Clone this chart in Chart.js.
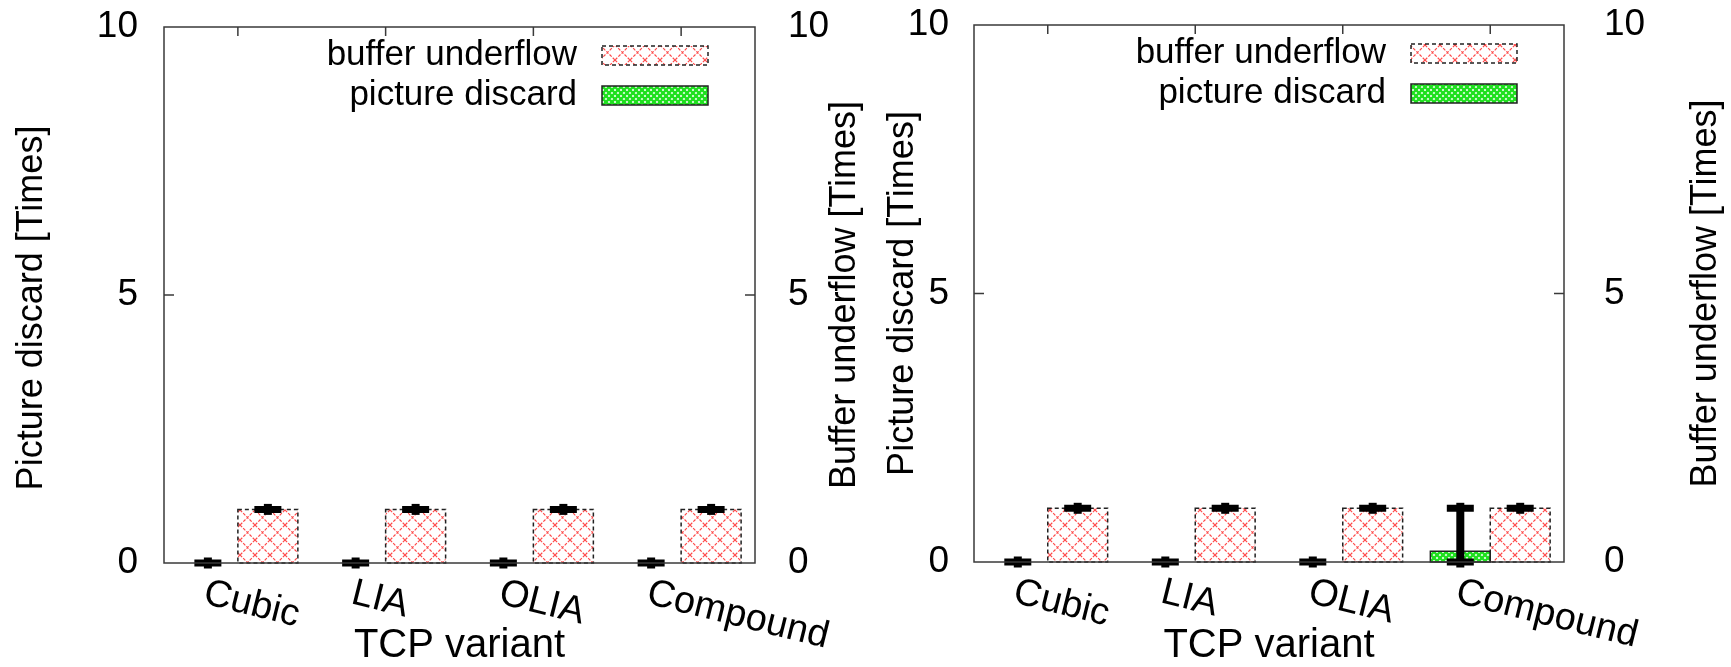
<!DOCTYPE html>
<html>
<head>
<meta charset="utf-8">
<script src="https://cdn.jsdelivr.net/npm/chart.js@4.4.1/dist/chart.umd.min.js"></script>
<style>
  body { margin: 0; background: #fff; }
  canvas { position: absolute; top: 0; }
  #left { left: 0; }
  #right { left: 870px; }
</style>
</head>
<body>
<canvas id="left" width="870" height="667"></canvas>
<canvas id="right" width="861" height="667"></canvas>
<script>
const variants = ['Cubic', 'LIA', 'OLIA', 'Compound'];

// left panel
const discardA = [0, 0, 0, 0];
const discardLowA = [0, 0, 0, 0];
const discardHighA = [0, 0, 0, 0];
const underflowA = [1, 1, 1, 1];
const underflowLowA = [1, 1, 1, 1];
const underflowHighA = [1, 1, 1, 1];

// right panel
const discardB = [0, 0, 0, 0.2];
const discardLowB = [0, 0, 0, 0];
const discardHighB = [0, 0, 0, 1];
const underflowB = [1, 1, 1, 1];
const underflowLowB = [1, 1, 1, 1];
const underflowHighB = [1, 1, 1, 1];

const FONT = 'Liberation Sans, Arial, sans-serif';
Chart.defaults.font.family = FONT;
Chart.defaults.color = '#000';

const makePattern = (size, draw) => {
    const c = document.createElement('canvas');
    c.width = size; c.height = size;
    const g = c.getContext('2d');
    g.fillStyle = '#fff';
    g.fillRect(0, 0, size, size);
    draw(g, size);
    return c.getContext('2d').createPattern(c, 'repeat');
};

const redHatch = makePattern(15, (g, s) => {
    g.strokeStyle = 'rgba(255,40,40,0.85)';
    g.lineWidth = 1.2;
    g.setLineDash([3, 1.5]);
    g.beginPath();
    g.moveTo(0, 0); g.lineTo(s, s);
    g.moveTo(s, 0); g.lineTo(0, s);
    g.stroke();
});

const greenHatch = makePattern(6, (g, s) => {
    g.strokeStyle = '#1ee01e';
    g.lineWidth = 2.4;
    g.beginPath();
    g.moveTo(-1, -1); g.lineTo(s + 1, s + 1);
    g.moveTo(s + 1, -1); g.lineTo(-1, s + 1);
    g.stroke();
});

// vertical title reading bottom to top
const sideTitle = (ctx, text, x, y) => {
    ctx.save();
    ctx.font = '36px ' + FONT;
    ctx.fillStyle = '#000';
    ctx.textAlign = 'center';
    ctx.textBaseline = 'middle';
    ctx.translate(x, y);
    ctx.rotate(-Math.PI / 2);
    ctx.fillText(text, 0, 0);
    ctx.restore();
};

const gnuplotLook = {
    id: 'gnuplotLook',
    afterDraw(chart, args, opts) {
        const {ctx, chartArea: a, scales} = chart;
        const xs = scales.x;
        const midY = (a.top + a.bottom) / 2;
        ctx.save();

        // bar outlines
        chart.data.datasets.forEach((ds, i) => {
            chart.getDatasetMeta(i).data.forEach(bar => {
                const {x, y, base, width} = bar.getProps(['x', 'y', 'base', 'width'], true);
                if (Math.abs(base - y) < 0.5) return;
                ctx.setLineDash(ds.dashed ? [4, 3] : []);
                ctx.lineWidth = 1.5;
                ctx.strokeStyle = '#222';
                ctx.strokeRect(x - width / 2, y, width, base - y);
            });
        });
        ctx.setLineDash([]);

        // error bars
        ctx.strokeStyle = '#000';
        chart.data.datasets.forEach((ds, i) => {
            const ys = scales[ds.yAxisID];
            chart.getDatasetMeta(i).data.forEach((bar, j) => {
                const x = bar.x;
                const lo = ys.getPixelForValue(ds.errLow[j]);
                const hi = ys.getPixelForValue(ds.errHigh[j]);
                ctx.lineCap = 'butt';
                ctx.lineWidth = 8;
                ctx.beginPath();
                ctx.moveTo(x, hi - 5.5); ctx.lineTo(x, lo + 5.5);
                ctx.stroke();
                ctx.lineWidth = 7;
                ctx.beginPath();
                ctx.moveTo(x - 13.5, hi); ctx.lineTo(x + 13.5, hi);
                ctx.moveTo(x - 13.5, lo); ctx.lineTo(x + 13.5, lo);
                ctx.stroke();
            });
        });

        // frame and inward ticks
        ctx.strokeStyle = '#3a3a3a';
        ctx.lineWidth = 1.5;
        ctx.strokeRect(a.left, a.top, a.right - a.left, a.bottom - a.top);
        ctx.beginPath();
        xs.ticks.forEach((t, k) => {
            const px = xs.getPixelForTick(k);
            ctx.moveTo(px, a.top); ctx.lineTo(px, a.top + 9);
        });
        scales.y.ticks.forEach(t => {
            const py = scales.y.getPixelForValue(t.value);
            if (py <= a.top + 1 || py >= a.bottom - 1) return;
            ctx.moveTo(a.left, py); ctx.lineTo(a.left + 10, py);
            ctx.moveTo(a.right, py); ctx.lineTo(a.right - 10, py);
        });
        ctx.stroke();

        // slanted category labels
        ctx.fillStyle = '#000';
        ctx.font = '38px ' + FONT;
        ctx.textAlign = 'left';
        ctx.textBaseline = 'alphabetic';
        xs.ticks.forEach((t, k) => {
            const px = xs.getPixelForTick(k);
            ctx.save();
            ctx.translate(px - 36, a.bottom + 40);
            ctx.rotate(14 * Math.PI / 180);
            ctx.fillText(chart.data.labels[k], 0, 0);
            ctx.restore();
        });

        // axis titles
        sideTitle(ctx, opts.leftTitle, a.left - opts.leftTitleGap, midY + opts.leftTitleShift);
        sideTitle(ctx, opts.rightTitle, a.right + opts.rightTitleGap, midY);

        // key, text right-aligned with sample box on its right
        const key = [1, 0];
        ctx.font = '35px ' + FONT;
        ctx.textAlign = 'right';
        ctx.textBaseline = 'middle';
        key.forEach((di, r) => {
            const ds = chart.data.datasets[di];
            const cy = a.top + 28.5 + r * 40;
            const bx = a.right - 153;
            ctx.fillStyle = ds.backgroundColor;
            ctx.fillRect(bx, cy - 9.5, 106, 19);
            ctx.setLineDash(ds.dashed ? [4, 3] : []);
            ctx.strokeStyle = '#222';
            ctx.lineWidth = 1.5;
            ctx.strokeRect(bx, cy - 9.5, 106, 19);
            ctx.setLineDash([]);
            ctx.fillStyle = '#000';
            ctx.fillText(ds.label, a.right - 178, cy);
        });

        ctx.restore();
    }
};

const drawPanel = (id, discard, dLow, dHigh, underflow, uLow, uHigh, lay) => {
    const yAxis = (position, width, pad) => ({
        position: position,
        min: 0,
        max: 10,
        grid: {display: false, drawTicks: false},
        border: {display: false},
        ticks: {stepSize: 5, padding: pad, font: {size: 37}, color: '#000'},
        afterFit: s => { s.width = width; s.paddingTop = 0; s.paddingBottom = 0; }
    });

    new Chart(document.getElementById(id), {
        type: 'bar',
        data: {
            labels: variants,
            datasets: [{
                label: 'picture discard',
                data: discard,
                errLow: dLow,
                errHigh: dHigh,
                yAxisID: 'y',
                backgroundColor: greenHatch,
                borderWidth: 0,
                dashed: false
            }, {
                label: 'buffer underflow',
                data: underflow,
                errLow: uLow,
                errHigh: uHigh,
                yAxisID: 'y1',
                backgroundColor: redHatch,
                borderWidth: 0,
                dashed: true
            }]
        },
        options: {
            responsive: false,
            animation: false,
            devicePixelRatio: 1,
            layout: {padding: {top: lay.top, left: 0, right: 0, bottom: 0}},
            categoryPercentage: 0.812,
            barPercentage: 1,
            plugins: {
                legend: {display: false},
                tooltip: {enabled: false},
                gnuplotLook: {
                    leftTitle: 'Picture discard [Times]',
                    leftTitleGap: lay.leftTitleGap,
                    leftTitleShift: lay.leftTitleShift,
                    rightTitle: 'Buffer underflow [Times]',
                    rightTitleGap: lay.rightTitleGap
                }
            },
            scales: {
                x: {
                    grid: {display: false, drawTicks: false},
                    border: {display: false},
                    ticks: {display: false},
                    title: {display: true, text: 'TCP variant', color: '#000',
                            font: {size: 40, lineHeight: 1.05}, padding: {top: 0, bottom: 0}},
                    afterFit: s => { s.height = lay.bottomH; s.paddingLeft = 0; s.paddingRight = 0; }
                },
                y: yAxis('left', lay.leftW, lay.leftPad),
                y1: yAxis('right', lay.rightW, lay.rightPad)
            }
        },
        plugins: [gnuplotLook]
    });
};

drawPanel('left', discardA, discardLowA, discardHighA, underflowA, underflowLowA, underflowHighA,
    {top: 27, bottomH: 104, leftW: 164, leftPad: 26, rightW: 115, rightPad: 33,
     leftTitleGap: 132, leftTitleShift: 13, rightTitleGap: 90});
drawPanel('right', discardB, discardLowB, discardHighB, underflowB, underflowLowB, underflowHighB,
    {top: 25, bottomH: 105, leftW: 104, leftPad: 25, rightW: 167, rightPad: 40,
     leftTitleGap: 71, leftTitleShift: 0, rightTitleGap: 142});
</script>
</body>
</html>
